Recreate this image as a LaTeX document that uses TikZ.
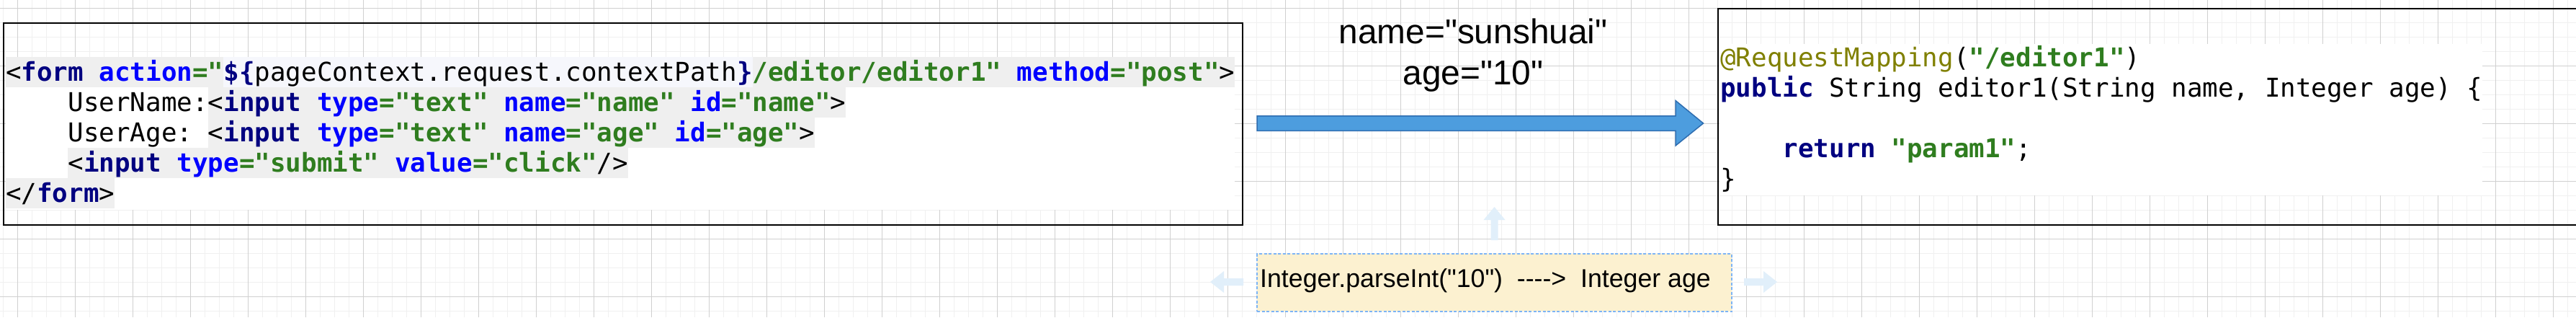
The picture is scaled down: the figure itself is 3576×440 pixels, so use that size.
\documentclass[tikz,border=0pt]{standalone}
\usepackage{fontspec}
\newfontfamily\lblfont{Liberation Sans}
\newfontfamily\codefont{DejaVu Sans Mono}
\usetikzlibrary{calc}
\frenchspacing
\definecolor{tagc}{HTML}{000080}
\definecolor{attrc}{HTML}{0000FF}
\definecolor{valc}{HTML}{2F7D1F}
\definecolor{annc}{HTML}{808000}
\definecolor{bandc}{HTML}{EFEFEF}
\definecolor{elc}{HTML}{F6F7FC}
\definecolor{gridminor}{HTML}{F0F0F0}
\definecolor{gridmajor}{HTML}{D0D0D0}
\definecolor{arrowfill}{HTML}{4D9DDE}
\definecolor{arrowdraw}{HTML}{2E6DB0}
\definecolor{notefill}{HTML}{FCF1D0}
\definecolor{notedraw}{HTML}{7DB4F5}
\definecolor{hoverc}{HTML}{E1EFFA}
\newcommand\Ktag[1]{{\color{tagc}\bfseries#1}}
\newcommand\Kattr[1]{{\color{attrc}\bfseries#1}}
\newcommand\Kval[1]{{\color{valc}\bfseries#1}}
\newcommand\Kann[1]{{\color{annc}#1}}
\tikzset{
  codeline/.style={inner sep=0pt, anchor=base west, font=\codefont\fontsize{35.87}{42}\selectfont},
  codebox/.style={draw=black, line width=2pt, rectangle, inner sep=0pt},
  codeimg/.style={fill=white},
  band/.style={fill=bandc},
  elband/.style={fill=elc},
  bigarrow/.style={fill=arrowfill, draw=arrowdraw, line width=1.5pt, line join=miter},
  lbl/.style={inner sep=0pt, anchor=base, font=\lblfont\fontsize{47.8}{57}\selectfont},
  notebox/.style={rectangle, fill=notefill, draw=notedraw, line width=2pt, dash pattern=on 4pt off 2.5pt, inner sep=0pt, minimum width=659pt, minimum height=80pt},
  notetext/.style={inner sep=0pt, anchor=base west, font=\lblfont\fontsize{35.7}{42}\selectfont},
  hover/.style={fill=hoverc},
}
\begin{document}
\begin{tikzpicture}[x=1pt, y=-1pt]
\useasboundingbox (0,0) rectangle (3576,440);
\clip (0,0) rectangle (3576,440);
\fill[white] (0,0) rectangle (3576,440);
% grid
\foreach \i in {0,...,178} {\draw[gridminor, line width=1.5pt] (4.3+20*\i,0) -- (4.3+20*\i,440);}
\foreach \j in {0,...,21} {\draw[gridminor, line width=1.5pt] (0,11.7+20*\j) -- (3576,11.7+20*\j);}
\foreach \i in {0,...,44} {\draw[gridmajor, line width=1pt] (24.3+80*\i,0) -- (24.3+80*\i,440);}
\foreach \j in {0,...,5} {\draw[gridmajor, line width=1pt] (0,11.7+80*\j) -- (3576,11.7+80*\j);}

% left code image
\fill[codeimg] (8,79) rectangle (1714,291);
\fill[band] (8,79) rectangle (1714,121);
\fill[elband] (310.4,79) rectangle (1044.8,121);
\fill[band] (288.8,121) rectangle (1174.4,163);
\fill[band] (288.8,163) rectangle (1131.2,205);
\fill[band] (94.4,205) rectangle (872,247);
\fill[band] (8,247) rectangle (159.2,289);
\node[codeline] (l1) at (8,112) {<\Ktag{form} \Kattr{action}\Kval{="}\Ktag{\$\{}pageContext.request.contextPath\Ktag{\}}\Kval{/editor/editor1"} \Kattr{method}\Kval{="post"}>};
\node[codeline] (l2) at (94.4,154) {UserName:<\Ktag{input} \Kattr{type}\Kval{="text"} \Kattr{name}\Kval{="name"} \Kattr{id}\Kval{="name"}>};
\node[codeline] (l3) at (94.4,196) {UserAge: <\Ktag{input} \Kattr{type}\Kval{="text"} \Kattr{name}\Kval{="age"} \Kattr{id}\Kval{="age"}>};
\node[codeline] (l4) at (94.4,238) {<\Ktag{input} \Kattr{type}\Kval{="submit"} \Kattr{value}\Kval{="click"}/>};
\node[codeline] (l5) at (8,280) {</\Ktag{form}>};
\node[codebox, minimum width=1720pt, minimum height=280pt] (form) at (865,172) {};

% right code image
\fill[codeimg] (2387,61) rectangle (3446,271);
\node[codeline] (r1) at (2388,92) {\Kann{@RequestMapping}(\Kval{"/editor1"})};
\node[codeline] (r2) at (2388,134) {\Ktag{public} String editor1(String name, Integer age) \{};
\node[codeline] (r4) at (2474.4,218) {\Ktag{return} \Kval{"param1"};};
\node[codeline] (r5) at (2388,260) {\}};
\node[codebox, minimum width=1215pt, minimum height=300pt] (ctrl) at (2992.5,162) {};

% big arrow
\coordinate (ast) at ($(form.east)+(19,-1)$);
\coordinate (atip) at ($(ctrl.west |- form.east)+(-19.5,-1)$);
\draw[bigarrow] ($(ast)+(0,-10.25)$) -- ($(atip)+(-38.5,-10.25)$) -- ($(atip)+(-38.5,-31.5)$) -- (atip)
   -- ($(atip)+(-38.5,31)$) -- ($(atip)+(-38.5,10.25)$) -- ($(ast)+(0,10.25)$) -- cycle;
\node[lbl] (lab1) at (2045,60) {name="sunshuai"};
\node[lbl] (lab2) at (2045,117) {age="10"};

% conversion note
\node[notebox] (conv) at (2074.5,392) {};
\node[notetext] (convt) at (1749,398) {Integer.parseInt("10")\ \ ---->\ \ Integer age};
\begin{scope}[shift={(conv.west)}]
  \fill[hover] (-18,-6) -- (-45,-6) -- (-45,-16) -- (-64,-1) -- (-45,14) -- (-45,4) -- (-18,4) -- cycle;
\end{scope}
\begin{scope}[shift={(conv.north)}]
  \fill[hover] (-5,-18) -- (-5,-46) -- (-15,-46) -- (0,-64) -- (15,-46) -- (5,-46) -- (5,-18) -- cycle;
\end{scope}
\begin{scope}[shift={(conv.east)}]
  \fill[hover] (16,-6) -- (43,-6) -- (43,-16) -- (62,-1) -- (43,14) -- (43,4) -- (16,4) -- cycle;
\end{scope}
\end{tikzpicture}
\end{document}
